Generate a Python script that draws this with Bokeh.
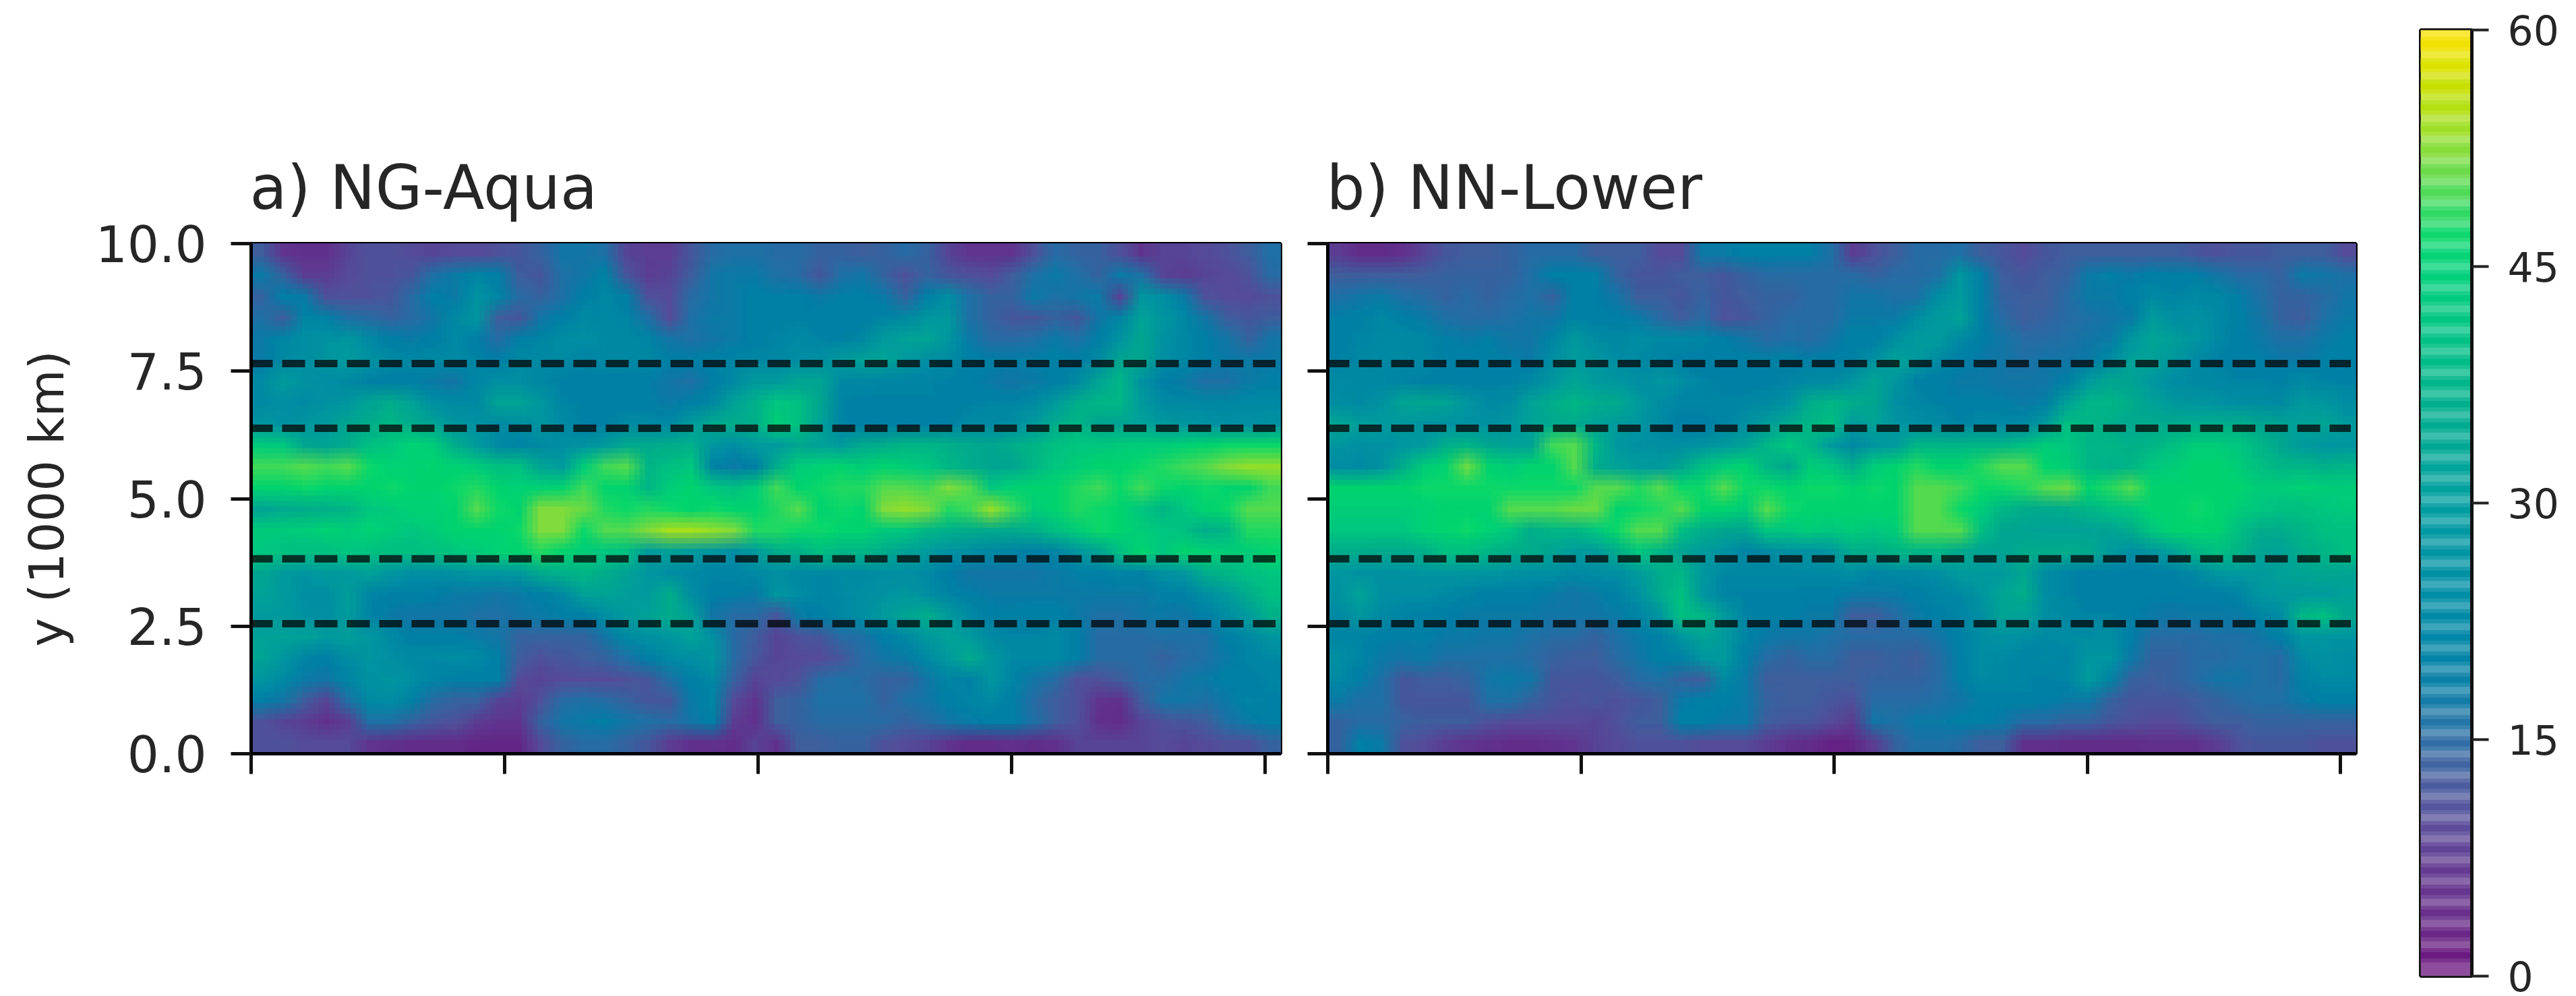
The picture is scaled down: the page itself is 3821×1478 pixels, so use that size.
import numpy as np
from bokeh.embed import file_html
from bokeh.models import FixedTicker, LinearColorMapper, NumeralTickFormatter, Range1d
from bokeh.plotting import figure
from bokeh.resources import INLINE

# top row first
a_left = [
[13,7,6,6,9,11,11,10,9,10,10,11,12,14,17,17,16,9,8,8,12,15,16,16],
[18,14,8,8,10,11,11,12,16,18,22,20,13,12,16,17,21,12,8,9,13,17,18,18],
[14,20,18,11,11,11,12,15,20,18,27,22,15,14,16,20,23,20,11,10,15,17,18,20],
[16,13,22,21,16,15,14,15,17,23,28,13,12,17,20,24,23,22,16,10,16,18,18,20],
[18,22,26,27,28,24,20,18,20,24,20,15,20,22,25,26,24,23,22,17,16,17,18,20],
[18,24,26,28,30,27,24,23,24,24,22,20,24,24,24,22,24,24,23,20,20,21,22,23],
[24,30,27,25,24,21,20,19,18,17,22,26,26,23,21,20,20,19,19,17,16,19,24,30],
[24,26,24,27,28,33,36,32,26,24,24,33,33,28,22,21,20,20,19,18,20,23,32,37],
[28,27,28,30,34,36,38,36,33,28,27,24,26,28,24,21,21,24,24,23,30,35,36,36],
[43,42,34,33,36,40,42,45,44,36,30,24,22,24,26,27,30,35,35,36,37,28,25,30],
[49,49,50,49,50,47,45,45,46,45,44,40,40,33,30,44,49,50,38,40,42,22,18,20],
[46,46,47,46,46,46,47,46,46,47,48,46,45,45,46,49,46,46,38,44,46,42,40,44],
[33,35,36,37,38,42,43,45,45,46,50,47,46,52,52,51,48,47,48,47,46,47,46,46],
[43,43,44,45,44,45,44,42,44,46,46,46,47,52,52,47,50,50,52,54,54,53,52,48],
[42,41,40,40,42,41,40,40,41,42,43,45,46,48,46,44,42,40,30,32,30,28,26,30],
[34,30,28,30,30,32,28,26,26,27,28,28,29,35,37,38,36,33,28,26,24,22,22,24],
[32,30,26,26,31,22,21,21,20,18,18,17,18,20,24,32,33,31,30,36,25,20,19,18],
[30,30,27,26,30,22,18,17,17,17,16,16,17,18,19,20,26,30,32,36,32,17,15,15],
[32,32,32,30,31,28,24,20,19,19,18,17,14,14,14,14,17,24,27,28,32,27,15,13],
[33,28,22,20,25,28,26,24,24,25,24,20,13,11,12,13,14,16,20,24,26,28,15,12],
[28,24,18,17,22,27,28,26,22,20,20,20,10,9,10,10,10,11,12,16,20,24,14,9],
[19,17,13,9,16,24,25,21,15,14,14,9,8,11,15,16,15,14,12,12,18,22,10,7],
[11,9,8,6,8,16,16,14,12,11,8,7,7,14,17,18,20,17,16,15,17,20,8,6],
[11,11,10,10,10,7,6,5,5,5,4,4,4,10,14,15,15,14,12,8,6,6,5,9],
]
a_right = [
[15,15,14,14,13,14,15,14,9,7,7,7,11,15,14,14,11,7,9,9,10,11,13,16],
[16,15,12,16,17,14,11,14,12,11,10,13,16,18,16,14,18,16,9,8,9,10,11,15],
[19,20,18,19,20,18,14,20,26,16,14,14,18,16,17,18,9,28,26,18,11,10,10,11],
[21,21,20,20,20,22,24,28,29,16,14,12,12,14,12,17,22,32,28,23,17,13,12,13],
[22,24,22,21,23,30,32,33,28,18,15,15,16,18,16,20,27,34,27,23,20,17,14,17],
[23,25,26,30,32,33,29,26,24,21,20,19,19,20,20,24,34,34,26,23,20,18,18,18],
[30,33,33,24,23,22,22,22,21,20,18,17,18,19,24,33,38,27,20,18,16,16,18,19],
[42,40,34,22,20,21,21,21,20,21,22,22,24,30,36,38,38,30,24,23,23,23,24,24],
[44,40,32,22,20,19,20,20,21,24,24,25,30,36,38,34,33,32,30,28,27,26,26,27],
[30,34,32,30,35,36,38,38,37,35,34,36,38,40,42,42,43,44,44,45,46,47,47,47],
[36,44,45,46,44,46,44,42,38,36,34,34,38,42,44,46,46,47,48,49,50,52,53,53],
[49,46,47,48,48,50,50,49,52,50,42,45,46,46,48,49,47,49,47,46,47,46,46,49],
[48,50,46,47,46,52,53,52,48,49,53,49,44,46,48,47,46,42,38,42,46,47,50,50],
[48,47,47,46,46,43,42,38,37,36,35,35,37,40,44,47,46,44,42,40,36,38,48,48],
[36,37,40,38,38,36,32,30,27,26,23,22,20,22,28,33,40,46,42,46,45,44,44,46],
[26,24,24,24,24,26,26,24,20,17,17,17,17,18,19,20,22,21,27,28,36,38,40,42],
[28,25,22,24,26,27,29,26,22,19,18,18,18,18,18,18,18,18,19,21,26,30,36,40],
[12,18,20,23,26,30,33,36,30,24,20,19,20,20,18,16,16,17,18,17,20,26,30,37],
[9,11,12,15,16,20,24,29,32,30,24,22,22,24,20,15,15,15,16,16,16,20,24,28],
[9,10,10,12,15,17,18,24,30,35,28,24,24,24,19,15,15,15,14,15,16,18,22,24],
[10,11,15,16,15,14,14,17,22,21,28,22,17,15,11,11,13,15,15,17,18,20,20,22],
[13,14,16,16,16,14,16,17,20,22,24,19,15,13,11,7,6,13,17,17,16,18,22,21],
[13,14,15,15,15,15,14,15,17,18,20,20,16,13,11,6,5,9,11,12,13,16,18,20],
[6,13,13,14,14,11,10,9,7,5,5,6,5,6,9,9,9,9,10,9,10,11,11,14],
]
b_left = [
[8,5,5,6,9,12,13,13,14,15,15,15,13,13,13,10,10,18,18,20,20,19,19,16],
[13,13,13,13,13,14,14,14,14,16,20,20,19,14,12,12,13,13,12,14,15,15,15,15],
[16,17,18,16,15,14,15,14,15,16,14,21,20,17,13,13,12,14,12,13,14,14,15,15],
[19,21,23,20,18,16,15,15,16,17,17,21,20,20,18,15,13,15,11,12,14,15,15,15],
[20,22,24,24,23,19,18,19,17,17,22,29,25,23,25,24,24,22,20,17,15,16,15,17],
[21,23,24,24,23,20,21,21,19,18,26,30,28,25,24,22,20,20,21,21,21,21,20,20],
[24,24,23,22,21,21,20,20,21,24,28,33,30,28,26,28,26,22,21,20,20,22,24,24],
[25,24,27,33,34,33,28,24,25,32,36,38,36,35,30,25,22,22,22,23,24,27,36,38],
[33,31,30,29,27,27,27,27,28,32,35,35,32,30,28,24,20,20,22,26,31,35,38,40],
[28,26,27,28,30,36,38,34,32,32,49,50,38,28,27,26,26,27,30,32,38,42,38,30],
[25,24,27,36,44,46,51,46,44,46,46,50,36,32,30,30,34,40,44,46,38,34,44,42],
[46,46,46,46,47,47,47,47,47,47,47,47,50,50,48,50,47,47,50,47,47,46,47,47],
[44,44,44,44,45,46,46,46,50,50,50,51,51,46,47,48,50,46,46,44,50,47,46,46],
[42,42,42,42,45,46,47,45,42,36,38,38,42,47,50,50,40,36,34,34,42,42,44,42],
[36,36,35,35,37,40,40,38,36,36,33,30,30,36,42,38,33,30,27,22,24,27,27,28],
[28,27,27,27,28,28,28,28,27,26,26,24,25,26,30,36,38,28,24,23,23,23,24,24],
[27,32,26,26,26,24,22,20,20,20,18,17,18,21,27,35,40,28,22,21,21,21,20,20],
[24,28,24,22,20,20,18,18,18,18,17,17,17,18,22,28,40,38,30,22,20,20,18,18],
[22,22,20,19,19,18,18,17,17,16,15,15,14,16,18,21,28,33,30,22,18,17,17,16],
[26,22,18,17,18,16,16,16,16,15,14,13,13,15,17,20,21,28,30,19,15,14,15,15],
[24,19,16,12,13,13,14,17,18,17,12,12,12,13,15,16,14,13,24,18,13,13,13,13],
[18,16,16,12,12,12,12,16,16,14,12,11,12,11,12,13,18,20,20,18,14,13,13,12],
[14,15,15,14,13,13,13,11,10,10,10,10,9,11,13,13,20,20,18,18,13,12,12,10],
[14,20,18,11,10,8,7,6,5,5,6,7,9,10,11,11,11,10,10,10,8,6,5,3],
]
b_right = [
[8,11,13,15,15,16,13,12,10,12,13,13,13,13,13,13,12,11,12,12,13,13,13,10],
[15,14,15,15,16,28,20,13,12,13,14,18,19,18,20,19,19,17,15,15,14,18,17,16],
[17,17,16,16,26,30,20,14,13,13,15,18,18,20,24,22,24,23,19,16,14,14,15,17],
[18,18,18,25,30,32,20,15,13,14,15,16,17,18,30,26,27,24,21,17,14,13,16,18],
[20,20,26,30,30,24,20,17,15,15,16,17,18,28,33,31,28,24,20,18,16,16,18,19],
[21,27,32,30,24,20,18,17,16,17,17,18,24,32,32,28,24,21,20,19,18,18,19,20],
[28,33,28,21,19,18,18,17,17,17,20,30,34,33,28,25,24,23,22,22,21,24,22,21],
[36,34,26,23,21,19,19,19,18,19,32,38,38,36,32,29,28,27,25,25,24,30,28,25],
[30,32,28,26,24,22,24,23,24,30,40,38,36,35,35,35,36,36,36,34,33,32,33,30],
[24,28,30,38,38,38,38,38,40,44,42,38,38,37,38,40,44,44,42,38,34,30,28,28],
[36,44,46,48,46,46,48,50,50,46,44,38,37,38,42,44,46,46,44,40,38,38,37,38],
[46,47,46,50,50,49,47,47,48,50,51,46,48,50,46,46,46,46,46,44,44,45,44,44],
[46,46,46,50,50,47,44,38,36,35,36,38,40,42,46,46,47,46,44,42,40,40,42,43],
[44,42,44,50,50,50,40,34,33,32,32,32,33,36,42,46,46,46,40,36,36,38,40,41],
[36,36,38,38,38,35,33,33,36,36,36,35,30,26,28,32,38,40,38,33,32,36,38,40],
[26,22,24,24,26,30,30,30,34,25,22,20,20,20,20,21,24,28,30,30,32,33,34,33],
[18,18,18,20,22,24,28,33,36,25,22,20,19,20,20,20,20,20,22,28,30,30,30,32],
[13,13,15,18,20,22,26,33,32,26,24,22,22,20,18,17,18,18,18,22,25,38,40,34],
[15,15,15,15,17,20,26,27,26,24,25,25,26,20,15,15,15,16,16,17,20,28,28,28],
[13,13,14,13,15,20,25,24,22,23,22,28,28,18,14,14,15,15,16,16,15,24,27,25],
[13,14,14,14,15,19,24,23,22,21,22,30,22,14,13,14,15,17,17,16,15,21,24,24],
[11,15,15,15,16,17,19,20,21,20,18,18,14,12,12,12,13,14,15,16,16,18,20,20],
[8,17,16,18,18,20,20,18,15,15,14,14,12,11,10,10,12,13,13,14,14,14,14,14],
[4,8,14,16,16,15,13,13,6,6,5,5,5,5,6,6,6,8,11,12,12,12,11,11],
]

titles = ["a) NG-Aqua", "b) NN-Lower"]
y_label = "y (1000 km)"
x_ticks = [0, 5, 10, 15, 20]
y_ticks = [0.0, 2.5, 5.0, 7.5, 10.0]
bar_ticks = [0, 15, 30, 45, 60]
dash_levels = [7.65, 6.38, 3.82, 2.55]
stop_values = [0, 3, 7, 10, 13, 15, 18, 21, 25, 30, 35, 40, 45, 47, 49, 52, 54, 56, 58, 60]
stop_colors = ["#6a0f7a", "#6a2a88", "#633c92", "#5a529c", "#44629f", "#2f70a6", "#0f7fa8", "#0085a6",
               "#0090a5", "#009ea0", "#00ab90", "#00c085", "#00d27a", "#10d86e", "#40da60", "#80dc40",
               "#a5e025", "#c0e000", "#e0e200", "#ffe000"]

FONT = "DejaVu Sans"
INK = "#262626"
rgb = np.array([[int(c[i:i + 2], 16) for i in (1, 3, 5)] for c in stop_colors], float)


def color_at(v, white=0.0):
    c = [np.interp(v, stop_values, rgb[:, k]) for k in range(3)]
    c = [x + (255 - x) * white for x in c]
    return "#%02x%02x%02x" % tuple(int(round(x)) for x in c)


palette = [color_at(v) for v in np.linspace(0, 60, 256)]
mapper = LinearColorMapper(palette=palette, low=0, high=60)


def place(fig, left):
    fig.styles = {"position": "absolute", "left": f"{left}px", "top": "0px"}


def panel(left_rows, right_rows, title, border_left, border_right, frame_w, with_labels, page_left):
    data = np.hstack([np.array(left_rows, float), np.array(right_rows, float)])[::-1]
    data = np.pad(data, 2, mode="edge")  # edge cells repeated so the soft display stays full at the frame
    cell_w, cell_h = 20.3 / 48, 10 / 24
    p = figure(frame_width=frame_w, frame_height=757, output_backend="svg", toolbar_location=None,
               x_range=Range1d(0, 20.3), y_range=Range1d(0, 10),
               min_border_left=border_left, min_border_right=border_right,
               min_border_top=361, min_border_bottom=340, background_fill_color="white",
               title=title)
    p.title.align = "left"
    p.title.text_font = FONT
    p.title.text_font_size = "90px"
    p.title.text_font_style = "normal"
    p.title.text_color = INK
    p.title.offset = -2
    p.title.standoff = 62
    # the same cells drawn at sub-cell shifts and averaged by alpha: a soft display of the read values
    n = 0
    for fx in (-0.375, -0.125, 0.125, 0.375):
        for fy in (-0.375, -0.125, 0.125, 0.375):
            n += 1
            p.image(image=[data], x=(-2 + fx) * cell_w, y=(-2 + fy) * cell_h,
                    dw=20.3 + 4 * cell_w, dh=10 + 4 * cell_h, color_mapper=mapper, global_alpha=1.0 / n)
    for level in dash_levels:
        p.line([0, 20.2], [level, level], line_color="black", line_alpha=0.72, line_width=11,
               line_dash="34 14", line_dash_offset=2)
    p.grid.visible = False
    p.outline_line_color = "black"
    p.outline_line_width = 5
    for ax, ticks in ((p.xaxis[0], x_ticks), (p.yaxis[0], y_ticks)):
        ax.ticker = FixedTicker(ticks=ticks)
        ax.major_tick_in = 0
        ax.major_tick_out = 30
        ax.minor_tick_in = 0
        ax.minor_tick_out = 0
        ax.major_tick_line_width = 5
        ax.major_tick_line_color = "#111111"
        ax.axis_line_color = "black"
        ax.axis_line_width = 5
    p.xaxis.major_label_overrides = {t: "" for t in x_ticks}
    p.xaxis.major_label_standoff = 0
    if with_labels:
        p.yaxis.formatter = NumeralTickFormatter(format="0.0")
        p.yaxis.major_label_text_font = FONT
        p.yaxis.major_label_text_font_size = "74px"
        p.yaxis.major_label_text_color = INK
        p.yaxis.major_label_standoff = 36
        p.yaxis.axis_label = y_label
        p.yaxis.axis_label_text_font = FONT
        p.yaxis.axis_label_text_font_style = "normal"
        p.yaxis.axis_label_text_font_size = "72px"
        p.yaxis.axis_label_text_color = INK
        p.yaxis.axis_label_standoff = 28
    else:
        p.yaxis.major_label_overrides = {t: "" for t in y_ticks}
        p.yaxis.major_label_standoff = 0
    place(p, page_left)
    return p


fig_a = panel(a_left, a_right, titles[0], 372, 36, 1527, True, 0)
fig_b = panel(b_left, b_right, titles[1], 34, 26, 1525, False, 1935)

# colour bar
fig_c = figure(frame_width=76, frame_height=1404, output_backend="svg", toolbar_location=None,
               x_range=Range1d(0, 1), y_range=Range1d(0, 60), y_axis_location="right",
               min_border_left=70, min_border_right=147, min_border_top=44, min_border_bottom=28)
band_edges = np.arange(1.32, 60, 1.344)
band_lows = np.concatenate([[0], band_edges])
band_highs = np.concatenate([band_edges, [60]])
fig_c.hbar(y=(band_lows + band_highs) / 2, height=band_highs - band_lows, left=0, right=1, line_color=None,
           fill_color=[color_at((a + b) / 2, 0.24) for a, b in zip(band_lows, band_highs)])
fig_c.hbar(y=band_edges, height=0.9, left=0, right=1, line_color=None,
           fill_color=[color_at(v, 0.1) for v in band_edges])
fig_c.hbar(y=band_edges, height=0.4, left=0, right=1, line_color=None,
           fill_color=[color_at(v) for v in band_edges])
fig_c.grid.visible = False
fig_c.xaxis.visible = False
fig_c.outline_line_color = "#111111"
fig_c.outline_line_width = 5
ax = fig_c.yaxis[0]
ax.ticker = FixedTicker(ticks=bar_ticks)
ax.major_tick_in = 0
ax.major_tick_out = 25
ax.minor_tick_in = 0
ax.minor_tick_out = 0
ax.major_tick_line_width = 4
ax.major_tick_line_color = "#222222"
ax.axis_line_color = "#111111"
ax.axis_line_width = 5
ax.major_label_text_font = FONT
ax.major_label_text_font_size = "60px"
ax.major_label_text_color = INK
ax.major_label_standoff = 28
place(fig_c, 3520)

open("out.html", "w").write(file_html([fig_a, fig_b, fig_c], INLINE))
